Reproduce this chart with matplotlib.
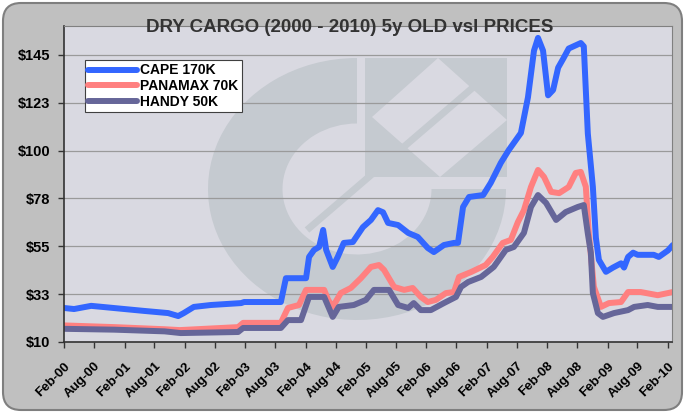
import matplotlib
matplotlib.use('Agg')
import matplotlib.pyplot as plt
import matplotlib.dates as mdates
from matplotlib.patches import FancyBboxPatch, Wedge, Rectangle, Polygon
from matplotlib.transforms import Affine2D
from matplotlib.ticker import FixedLocator, FuncFormatter
import numpy as np
import pandas as pd

plt.rcParams['font.family'] = ['Liberation Sans', 'DejaVu Sans']

# --- data: months since Feb-2000, price in $m ---
START = pd.Timestamp('2000-02-01')

cape_months = [0, 2, 5.4, 16, 20.7, 22.7, 23.8, 25.8, 29.2, 35.2, 35.8, 43.1, 44.1,
               48.1, 48.7, 49.7, 50.7, 51.5, 52.1, 53.4, 54.4, 55.6, 57.4, 59.4,
               61.0, 62.4, 63.4, 64.4, 66.4, 68.4, 70.3, 72.3, 73.5, 75.5, 77.5,
               78.3, 79.3, 80.5, 83.3, 84.8, 86.8, 88.4, 90.8, 92.2, 93.4, 94.2,
               95.2, 96.2, 97.2, 98.2, 99.3, 100.3, 102.7, 103.3, 104.1, 105.1,
               105.7, 106.3, 107.7, 109.1, 110.7, 111.3, 112.1, 113.1, 114.0,
               117.2, 118.2, 120, 121]
cape_prices = [26, 25.5, 27, 24.6, 23.6, 22.2, 23.6, 26.5, 27.4, 28.3, 28.8, 28.8, 40,
               40, 50, 53.3, 54.7, 62.7, 53.3, 45.3, 50, 56.6, 57, 64,
               67.4, 72, 71, 66, 65, 61.3, 59.4, 54.2, 52.3, 55.6, 56.6,
               56.6, 73.5, 78.2, 79.1, 84.8, 94.2, 100.3, 108.3, 125, 147, 153,
               147, 126, 128.5, 139, 143.6, 148, 150.6, 149, 108, 83,
               59, 48.6, 43, 45, 47, 45, 50, 52, 51,
               51, 50, 53, 55.6]

panamax_months = [0, 10, 20, 23, 34.6, 35.6, 43.1, 44.5, 46.7, 48.1, 51.7, 52.5,
                  53.4, 55, 57, 59, 61, 62.6, 63.6, 65.6, 67.6, 69.3, 70.9, 72.3,
                  73.9, 75.9, 77.5, 78.5, 80.9, 83.8, 85.2, 87.2, 88.8, 90.2, 91.4,
                  92.8, 94.2, 95.4, 96.8, 98.4, 100.3, 101.7, 102.7, 103.7, 104.3,
                  105.3, 106.7, 108.3, 110.7, 112.1, 114.6, 118, 121]
panamax_prices = [17.8, 17, 16, 15.6, 17, 19, 19, 26, 27.4, 34.5, 34.5, 29.8,
                  26.5, 33, 35.4, 40, 45.3, 46.2, 43.9, 35.9, 34.5, 35.4, 31.2, 28.8,
                  29.8, 33, 33.5, 40.6, 42.9, 46.2, 50, 56.6, 58, 66.4, 72,
                  82.9, 90.9, 87.6, 80.6, 80, 82.9, 89.5, 90, 83, 61,
                  36, 26.5, 28.3, 28.8, 33.5, 33.5, 32, 33.5]

handy_months = [0, 10, 20, 23.2, 34.6, 35.6, 43.1, 44.5, 47.1, 48.7, 51.7, 53.4,
                54.6, 57.6, 60, 61.6, 64.6, 66.4, 68.4, 69.5, 70.9, 72.9, 75.5,
                77.9, 78.9, 80.3, 82.9, 85.4, 87.8, 89.4, 91.4, 92.8, 94.2, 95.8,
                97.8, 99.7, 102.1, 103.3, 104.1, 104.7, 105.1, 106.1, 107.1, 109.3,
                112.1, 113.3, 116, 118, 121]
handy_prices = [16.2, 15.8, 15, 14.2, 14.7, 16.6, 16.6, 20.3, 20.3, 31.2, 31.2, 21.8,
                26.5, 27.4, 29.8, 34.5, 34.5, 27.4, 26, 28.3, 25, 25, 28.3,
                31.2, 35.9, 38.2, 40.6, 45.3, 53.3, 54.7, 61.3, 73.5, 79.1, 75.4,
                67.4, 71.1, 73.5, 74.4, 61, 52, 33, 23.6, 21.8, 23.6,
                25, 26.5, 27.4, 26.5, 26.5]

series_names = ['CAPE 170K', 'PANAMAX 70K', 'HANDY 50K']
series_colors = ['#3366FF', '#FF8080', '#666699']

y_ticks = [10, 32.5, 55, 77.5, 100, 122.5, 145]


def to_dates(months):
    return [START + pd.Timedelta(days=m * 30.44) for m in months]


fig = plt.figure(figsize=(6.86, 4.12), dpi=100)
fig.patch.set_facecolor('white')

# rounded grey chart background
bg = FancyBboxPatch((0.03, 0.02), 6.79, 4.07,
                    boxstyle="round,pad=0,rounding_size=0.18",
                    transform=fig.dpi_scale_trans, facecolor='#C0C0C0',
                    edgecolor='#7F7F7F', linewidth=1.5, zorder=-1)
fig.patches.append(bg)

W, H = 686, 412
left, right, top, bottom = 64, 672, 26, 342
ax = fig.add_axes([left / W, 1 - bottom / H, (right - left) / W, (bottom - top) / H],
                  zorder=1)
plot_bg = '#D9D9E1'
ax.set_facecolor(plot_bg)

# faint logo watermark, in axes pixel units
aw, ah = right - left, bottom - top
px = Affine2D().scale(1 / aw, 1 / ah) + ax.transAxes
wm_color = '#C5CAD0'
ring = Wedge((0, 0), 1, 90, 360, width=0.5, facecolor=wm_color, edgecolor='none',
             transform=Affine2D().scale(149, 131).translate(293, 153) + px, zorder=0.2)
ax.add_patch(ring)
ax.add_patch(Rectangle((301, 165), 142, 119, facecolor=wm_color, edgecolor='none',
                       transform=px, zorder=0.2))
ax.add_patch(Polygon([(308, 225), (374, 284), (443, 222), (376, 165)], closed=True,
                     facecolor=plot_bg, edgecolor='none', transform=px, zorder=0.25))
ax.plot([243, 420], [112, 264], color=wm_color, linewidth=5, transform=px, zorder=0.3,
        solid_capstyle='butt')

for months, prices, name, color in zip(
        [cape_months, panamax_months, handy_months],
        [cape_prices, panamax_prices, handy_prices],
        series_names, series_colors):
    ax.plot(to_dates(months), prices, color=color, linewidth=4.3, label=name,
            solid_joinstyle='round', solid_capstyle='round', zorder=2)

ax.set_ylim(10, 158.6)
ax.set_xlim(pd.Timestamp('2000-02-01'), pd.Timestamp('2010-02-26'))
ax.yaxis.set_major_locator(FixedLocator(y_ticks))
ax.yaxis.set_major_formatter(FuncFormatter(lambda v, p: f"${int(np.floor(v + 0.5))}"))
ax.xaxis.set_major_locator(mdates.MonthLocator(bymonth=[2, 8], bymonthday=1))
ax.xaxis.set_major_formatter(mdates.DateFormatter('%b-%y'))

ax.set_axisbelow(True)
ax.grid(axis='y', color='#9A9A9A', linewidth=0.9)
ax.grid(axis='x', visible=False)

ax.tick_params(axis='y', length=4, width=1, pad=6, labelsize=10.5, color='#333333')
ax.tick_params(axis='x', length=4, width=1, pad=9, labelsize=9.5, color='#333333')
for lbl in ax.get_yticklabels():
    lbl.set_fontweight('bold')
for lbl in ax.get_xticklabels():
    lbl.set_fontweight('bold')
    lbl.set_rotation(45)
    lbl.set_ha('right')
    lbl.set_va('top')
    lbl.set_rotation_mode('anchor')

ax.spines['left'].set_color('#333333')
ax.spines['bottom'].set_color('#333333')
ax.spines['left'].set_linewidth(1.2)
ax.spines['bottom'].set_linewidth(1.2)
ax.spines['top'].set_color('#808080')
ax.spines['right'].set_color('#808080')

leg = ax.legend(loc='upper left', bbox_to_anchor=(85 / W, 1 - 60 / H),
                bbox_transform=fig.transFigure, frameon=True, fancybox=False,
                edgecolor='#404040', framealpha=1, borderpad=0.25,
                handlelength=3.5, handletextpad=0.2, labelspacing=0.12,
                borderaxespad=0, prop={'weight': 'bold', 'size': 10})
leg.get_frame().set_linewidth(0.8)

fig.text(350 / W, 1 - 27 / H, 'DRY CARGO (2000 - 2010) 5y OLD vsl PRICES',
         ha='center', va='center', fontsize=13.5, fontweight='bold', color='#333333',
         zorder=5)

fig.savefig('out.png', dpi=100)
